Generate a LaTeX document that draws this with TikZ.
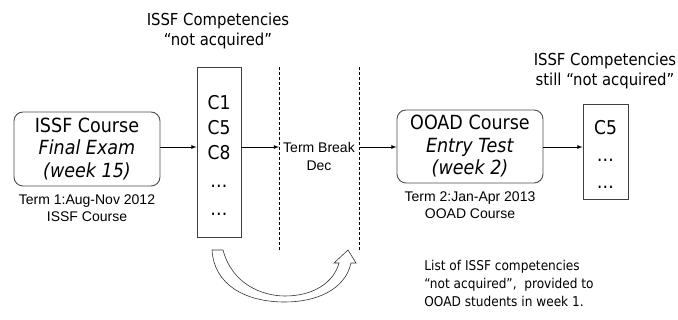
\documentclass[tikz,border=0pt]{standalone}
\usepackage{fontspec}
\newfontfamily\tahoma{DejaVu Sans Condensed}
\newfontfamily\arial{Liberation Sans}
\usepackage{tikz}
\usetikzlibrary{positioning}

\tikzset{
  course/.style={draw=black!70, line width=0.9pt, rounded corners=9pt, minimum width=146pt, minimum height=74pt, inner sep=0pt, align=center, font=\tahoma\fontsize{19.5}{22.5}\selectfont},
  complist/.style={draw=black!75, line width=0.9pt, inner sep=0pt},
  comptext/.style={anchor=north, inner sep=0pt, align=center, font=\tahoma\fontsize{19}{25}\selectfont},
  termlabel/.style={inner sep=0pt, align=center, font=\arial\fontsize{14}{17}\selectfont},
  toplabel/.style={inner sep=0pt, align=center, font=\tahoma\fontsize{16.5}{20}\selectfont},
  breakline/.style={line width=0.7pt, dash pattern=on 3pt off 2pt},
}

\begin{document}
\begin{tikzpicture}[x=1pt, y=-1pt, >=latex, line width=0.8pt]
\useasboundingbox (0,0) rectangle (678,320);

\node[course] (issf) at (87,149) {ISSF Course\\\textit{Final Exam}\\\textit{(week 15)}};
\node[termlabel, below=8pt of issf] (term1) {Term 1:Aug-Nov 2012\\ISSF Course};

\node[complist, minimum width=44pt, minimum height=170pt] (clist) at (219,152) {};
\node[comptext] (clisttext) at (219,95) {C1\\C5\\C8\\[3pt]…\\[3pt]…};
\node[toplabel] (lostlbl) at (218,31) {ISSF Competencies\\“not acquired”};

% term break between the two courses
\coordinate (brk1top) at (279,67);
\coordinate (brk1bot) at (279,250);
\coordinate (brk2top) at (359,67);
\coordinate (brk2bot) at (359,250);
\draw[breakline] (brk1top) -- (brk1bot);
\draw[breakline] (brk2top) -- (brk2bot);
\node[termlabel, font=\arial\fontsize{14}{18}\selectfont] (break) at (319,156) {Term Break\\Dec};

\node[course, minimum width=146pt, minimum height=73pt] (ooad) at (470,146.5) {OOAD Course\\\textit{Entry Test}\\\textit{(week 2)}};
\node[termlabel, below=8pt of ooad] (term2) {Term 2:Jan-Apr 2013\\OOAD Course};

\node[complist, minimum width=45pt, minimum height=95pt] (cfive) at (605.5,151.5) {};
\node[comptext, font=\tahoma\fontsize{19}{27}\selectfont] (cfivetext) at (605.5,120) {C5\\…\\…};
\node[toplabel] (stilllbl) at (605,71) {ISSF Competencies\\still “not acquired”};

\coordinate (flow) at (0,147);
\path [->] (issf.east |- flow) edge (clist.west |- flow);
\path [->] (clist.east |- flow) edge (brk1top |- flow);
\path [->] (brk2top |- flow) edge (ooad.west |- flow);
\path [->] (ooad.east |- flow) edge (cfive.west |- flow);

% hollow curved arrow under the break
\draw[fill=white, draw=black!80, line width=0.6pt] (212,250) -- (223,250)
  .. controls (232,284) and (262,296) .. (285,296)
  .. controls (314,296) and (334,282) .. (339,263)
  -- (334,263) -- (348,250) -- (356,263) -- (351,263)
  .. controls (345,290) and (316,302) .. (285,302)
  .. controls (244,302) and (214,284) .. (212,250) -- cycle;

\node[anchor=north west, inner sep=0pt, align=left, font=\tahoma\fontsize{13.5}{18}\selectfont] (listlbl) at (424,260) {List of ISSF competencies\\“not acquired”,\ \ provided to\\OOAD students in week 1.};

\end{tikzpicture}
\end{document}
